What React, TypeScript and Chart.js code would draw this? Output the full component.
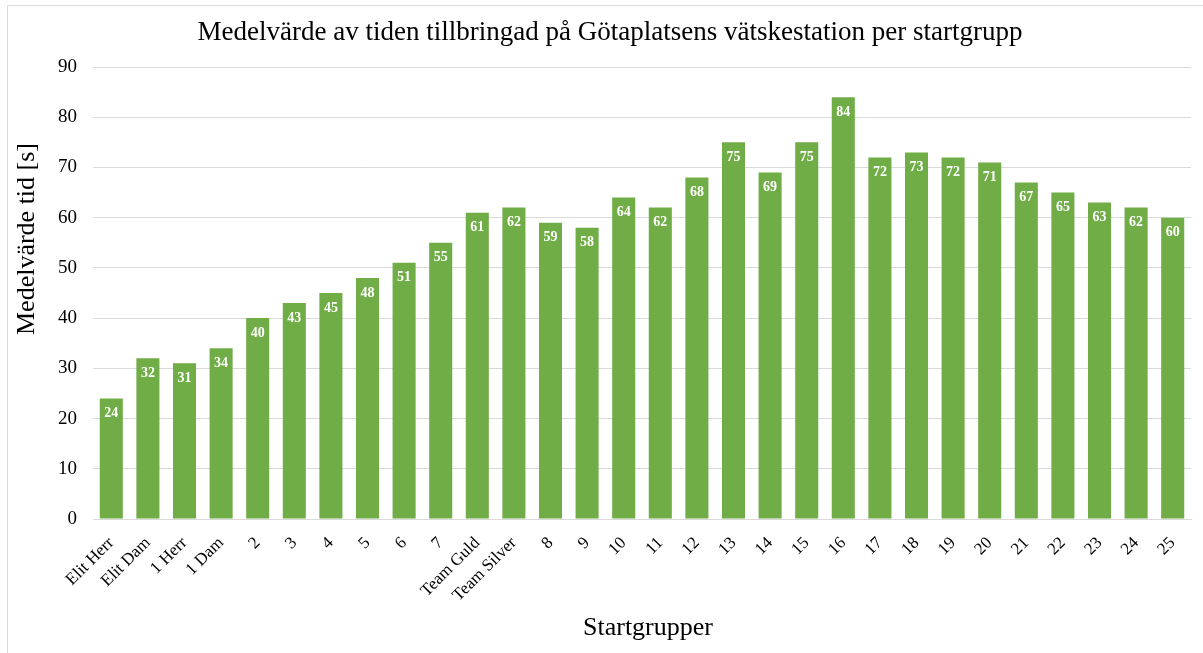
import React, { useEffect, useRef } from "react";
import { Chart, registerables } from "chart.js";

Chart.register(...registerables);

const categories = [
  "Elit Herr", "Elit Dam", "1 Herr", "1 Dam", "2", "3", "4", "5", "6", "7",
  "Team Guld", "Team Silver", "8", "9", "10", "11", "12", "13", "14", "15",
  "16", "17", "18", "19", "20", "21", "22", "23", "24", "25",
];
const values = [
  24, 32, 31, 34, 40, 43, 45, 48, 51, 55,
  61, 62, 59, 58, 64, 62, 68, 75, 69, 75,
  84, 72, 73, 72, 71, 67, 65, 63, 62, 60,
];
const titleText = "Medelvärde av tiden tillbringad på Götaplatsens vätskestation per startgrupp";
const yTitle = "Medelvärde tid [s]";
const xTitle = "Startgrupper";

const SERIF = "'Liberation Serif', 'Times New Roman', serif";

const dataLabels = {
  id: "dataLabels",
  afterDatasetsDraw(chart: any) {
    const ctx = chart.ctx;
    const meta = chart.getDatasetMeta(0);
    ctx.save();
    ctx.fillStyle = "#ffffff";
    ctx.font = `bold 14px ${SERIF}`;
    ctx.textAlign = "center";
    ctx.textBaseline = "middle";
    meta.data.forEach((bar: any, i: number) => {
      ctx.fillText(String(chart.data.datasets[0].data[i]), bar.x, bar.y + 15);
    });
    ctx.restore();
  },
};

const titles = {
  id: "titles",
  afterDraw(chart: any) {
    const ctx = chart.ctx;
    ctx.save();
    ctx.fillStyle = "#000";
    ctx.textAlign = "center";
    ctx.textBaseline = "middle";
    ctx.font = `27px ${SERIF}`;
    ctx.fillText(titleText, 610, 33);
    ctx.font = `26px ${SERIF}`;
    ctx.fillText(xTitle, 648, 628);
    ctx.translate(27, 239);
    ctx.rotate(-Math.PI / 2);
    ctx.fillText(yTitle, 0, 0);
    ctx.restore();
  },
};

export default function App() {
  const ref = useRef<HTMLCanvasElement>(null);
  useEffect(() => {
    if (!ref.current) return;
    const chart = new Chart(ref.current, {
      type: "bar",
      data: {
        labels: categories,
        datasets: [
          {
            data: values,
            backgroundColor: "#70AD47",
            barPercentage: 0.63,
            categoryPercentage: 1,
          },
        ],
      },
      options: {
        animation: false,
        responsive: false,
        maintainAspectRatio: false,
        layout: { padding: { left: 0, right: 12, top: 67, bottom: 0 } },
        plugins: {
          legend: { display: false },
          tooltip: { enabled: false },
          title: { display: false },
        },
        scales: {
          x: {
            afterFit: (scale: any) => {
              scale.height = 134;
            },
            grid: { display: false, drawTicks: false },
            border: { display: true, color: "#d9d9d9", width: 1 },
            ticks: {
              color: "#000",
              font: { family: SERIF, size: 17 },
              minRotation: 45,
              maxRotation: 45,
              autoSkip: false,
              padding: 14,
            },
          },
          y: {
            min: 0,
            max: 90,
            afterFit: (scale: any) => {
              scale.width = 93;
            },
            ticks: {
              stepSize: 10,
              color: "#000",
              font: { family: SERIF, size: 19 },
              padding: 16,
            },
            grid: { color: "#d9d9d9", drawTicks: false },
            border: { display: false },
          },
        },
      },
      plugins: [dataLabels, titles],
    });
    return () => chart.destroy();
  }, []);

  return (
    <div style={{ position: "absolute", left: 0, top: 0, width: 1203, height: 653, background: "#fff" }}>
      <div
        style={{
          position: "absolute",
          left: 7,
          top: 5,
          width: 1210,
          height: 660,
          border: "1px solid #d9d9d9",
          boxSizing: "border-box",
        }}
      />
      <canvas ref={ref} width={1203} height={653} style={{ position: "absolute", left: 0, top: 0 }} />
    </div>
  );
}
